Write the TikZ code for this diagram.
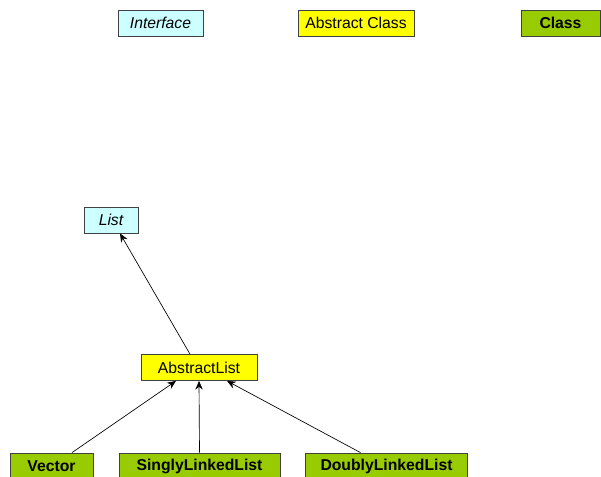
\documentclass[tikz,border=0pt]{standalone}
\usepackage{fontspec}
\setmainfont{Liberation Sans}
\definecolor{IfaceCyan}{HTML}{CCFFFF}
\definecolor{AbsYellow}{HTML}{FFFF00}
\definecolor{ClsGreen}{HTML}{99CC00}
\definecolor{BoxRule}{HTML}{404040}
\usetikzlibrary{arrows.meta,calc}

\tikzset{
  umlbox/.style={rectangle,draw=BoxRule,line width=0.6pt,inner sep=0pt,
                 minimum height=19.5pt,font=\fontsize{11.8}{13}\selectfont},
  iface/.style={umlbox,fill=IfaceCyan,font=\fontsize{11.8}{13}\selectfont\itshape},
  absclass/.style={umlbox,fill=AbsYellow},
  concrete/.style={umlbox,fill=ClsGreen,font=\fontsize{11.8}{13}\selectfont\bfseries},
  inherit/.style={-{Stealth[length=6.5pt,width=5.5pt]},line width=0.5pt,black}
}

\begin{document}
\begin{tikzpicture}[x=0.75pt,y=-0.75pt]
    \useasboundingbox (0,0) rectangle (601,476);

    % legend
    \node[iface,minimum width=63.75pt]    (legiface) at (160.5,23) {Interface};
    \node[absclass,minimum width=87pt]    (legabs)   at (356,23)   {Abstract Class};
    \node[concrete,minimum width=59.25pt] (legcls)   at (560.5,23) {Class};

    % hierarchy
    \node[iface,minimum width=40.5pt]     (list)     at (111,220)   {List};
    \node[absclass,minimum width=87pt]    (abslist)  at (199,367.5) {AbstractList};
    \node[concrete,minimum width=62.25pt] (vector)   at (51.5,466)  {Vector};
    \node[concrete,minimum width=120.75pt](singly)   at (199.5,466) {SinglyLinkedList};
    \node[concrete,minimum width=121.5pt] (doubly)   at (386.5,466) {DoublyLinkedList};

    \draw[inherit] ($(abslist.north)+(-9,0)$) -- ($(list.south)+(9,0)$);
    \draw[inherit] ($(vector.north)+(20.5,0)$) -- ($(abslist.south)+(-23,0)$);
    \draw[inherit] (singly.north) -- (abslist.south);
    \draw[inherit] ($(doubly.north)+(-26,0)$) -- ($(abslist.south)+(28,0)$);
\end{tikzpicture}
\end{document}
